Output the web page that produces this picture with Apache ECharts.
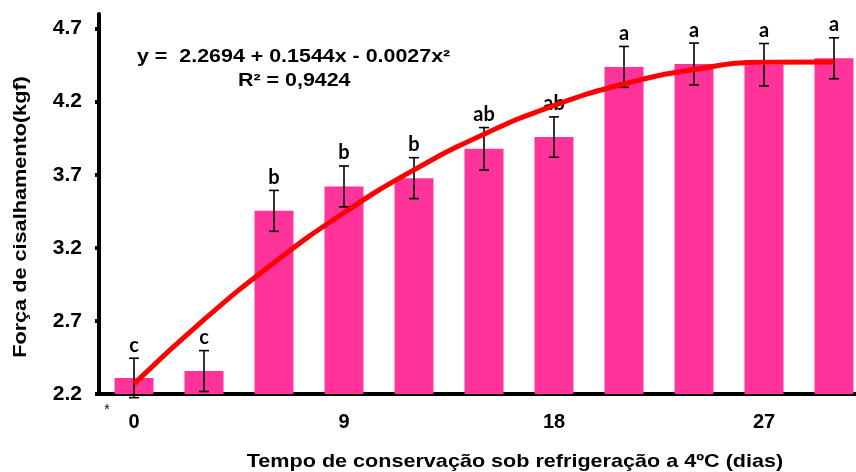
<!DOCTYPE html>
<html>
<head>
<meta charset="utf-8">
<style>
  html, body { margin: 0; padding: 0; background: #ffffff; }
  #chart { width: 856px; height: 472px; }
</style>
<script src="https://cdn.jsdelivr.net/npm/echarts@6/dist/echarts.min.js"></script>
</head>
<body>
<div id="chart"></div>
<script>
// Storage time at 4 °C (days)
const days = [0, 3, 6, 9, 12, 15, 18, 21, 24, 27, 30];
// Mean shear force (kgf) and standard error
const shearForce = [2.31, 2.357, 3.453, 3.62, 3.677, 3.878, 3.958, 4.438, 4.458, 4.453, 4.497];
const shearError = [0.135, 0.14, 0.14, 0.14, 0.14, 0.145, 0.138, 0.14, 0.143, 0.145, 0.14];
// Tukey grouping letters
const groupLetters = ['c', 'c', 'b', 'b', 'b', 'ab', 'ab', 'a', 'a', 'a', 'a'];
// Y axis tick labels
const yTicks = [2.2, 2.7, 3.2, 3.7, 4.2, 4.7];
// Quadratic fit: y = b0 + b1*x + b2*x^2
const fitCoef = [2.2694, 0.1544, -0.0027];
const fitText = 'y =  2.2694 + 0.1544x - 0.0027x²';
const r2Text = 'R² = 0,9424';

const FONT = '"Liberation Sans", Arial, sans-serif';
const LETTER_FONT = 'Lato, "Open Sans", sans-serif';
const BAR_COLOR = '#ff3399';

const fitValues = days.map(d => fitCoef[0] + fitCoef[1] * d + fitCoef[2] * d * d);

const chart = echarts.init(document.getElementById('chart'), null, { renderer: 'canvas' });

chart.setOption({
  animation: false,
  backgroundColor: '#ffffff',
  grid: {
    left: 99, top: 14, width: 770, bottom: 78,
    containLabel: false,
    outerBoundsMode: 'none'
  },
  xAxis: {
    type: 'category',
    data: days.map(String),
    boundaryGap: true,
    axisLine: { show: true, onZero: false, lineStyle: { color: '#000', width: 4 } },
    axisTick: { show: false },
    axisLabel: {
      interval: 2,
      margin: 18,
      color: '#000',
      fontFamily: FONT,
      fontWeight: 'bold',
      fontSize: 20
    },
    splitLine: { show: false }
  },
  yAxis: {
    type: 'value',
    min: 2.2,
    max: 4.8,
    axisLine: { show: true, lineStyle: { color: '#000', width: 4 } },
    axisTick: {
      show: true,
      customValues: yTicks,
      length: 4,
      lineStyle: { color: '#000', width: 4 }
    },
    axisLabel: {
      customValues: yTicks,
      margin: 17,
      color: '#000',
      fontFamily: FONT,
      fontWeight: 'bold',
      fontSize: 21,
      formatter: v => v.toFixed(1)
    },
    splitLine: { show: false }
  },
  series: [
    {
      type: 'bar',
      data: shearForce,
      barWidth: 39,
      itemStyle: { color: BAR_COLOR },
      z: 2
    },
    {
      type: 'custom',
      data: shearForce.map((v, i) => [i, v, shearError[i]]),
      z: 3,
      renderItem: function (params, api) {
        const i = api.value(0);
        const v = api.value(1);
        const e = api.value(2);
        const letter = groupLetters[params.dataIndex];
        const top = api.coord([i, v + e]);
        const bot = api.coord([i, v - e]);
        const cap = 5;
        const style = { stroke: '#000', lineWidth: 1.6 };
        return {
          type: 'group',
          children: [
            { type: 'line', shape: { x1: top[0], y1: top[1], x2: bot[0], y2: bot[1] }, style },
            { type: 'line', shape: { x1: top[0] - cap, y1: top[1], x2: top[0] + cap, y2: top[1] }, style },
            { type: 'line', shape: { x1: bot[0] - cap, y1: bot[1], x2: bot[0] + cap, y2: bot[1] }, style },
            {
              type: 'text',
              x: top[0],
              y: top[1] - 3,
              style: {
                text: letter,
                fill: '#000',
                font: 'bold 20px ' + LETTER_FONT,
                align: 'center',
                verticalAlign: 'bottom'
              }
            }
          ]
        };
      }
    },
    {
      type: 'line',
      data: fitValues,
      smooth: true,
      showSymbol: false,
      lineStyle: { color: '#ff0000', width: 5 },
      z: 4
    }
  ],
  graphic: [
    {
      type: 'text',
      x: 137,
      y: 57,
      scaleX: 1.19,
      style: { text: fitText, fill: '#000', font: 'bold 18px ' + FONT, align: 'left', verticalAlign: 'middle' }
    },
    {
      type: 'text',
      x: 238,
      y: 81,
      scaleX: 1.19,
      style: { text: r2Text, fill: '#000', font: 'bold 18px ' + FONT, align: 'left', verticalAlign: 'middle' }
    },
    {
      type: 'text',
      x: 21,
      y: 217,
      rotation: Math.PI / 2,
      scaleX: 1.14,
      style: {
        text: 'Força de cisalhamento(kgf)',
        fill: '#000',
        font: 'bold 19px ' + FONT,
        align: 'center',
        verticalAlign: 'middle'
      }
    },
    {
      type: 'text',
      x: 107,
      y: 410,
      style: { text: '*', fill: '#000', font: '14px ' + FONT, align: 'center', verticalAlign: 'middle' }
    },
    {
      type: 'text',
      x: 515,
      y: 462,
      scaleX: 1.136,
      style: {
        text: 'Tempo de conservação sob refrigeração a 4ºC (dias)',
        fill: '#000',
        font: 'bold 19px ' + FONT,
        align: 'center',
        verticalAlign: 'middle'
      }
    }
  ]
});
</script>
</body>
</html>
